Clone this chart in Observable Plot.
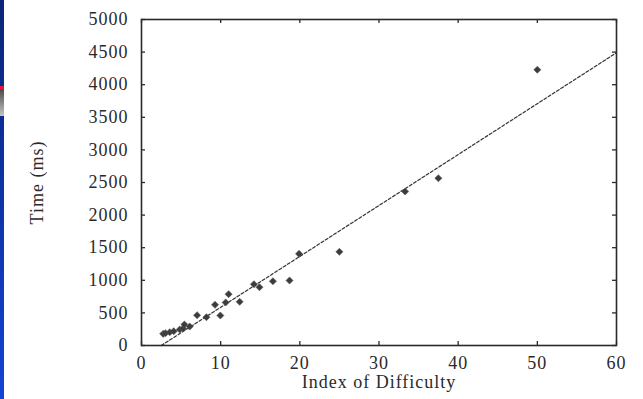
<!DOCTYPE html>
<html>
<head>
<meta charset="utf-8">
<script src="https://cdn.jsdelivr.net/npm/d3@7"></script>
<script src="https://cdn.jsdelivr.net/npm/@observablehq/plot@0.6"></script>
<style>
  html, body { margin: 0; padding: 0; background: #fff; }
  #wrap { position: relative; width: 643px; height: 399px; overflow: hidden; }
  #strip { position: absolute; left: 0; top: 0; width: 4px; height: 399px;
    background: linear-gradient(#0a2578, #1244d6); }
  #red { position: absolute; left: 0; top: 86px; width: 4px; height: 3px; background: #e0173c; }
  #gray { position: absolute; left: 0; top: 89px; width: 4px; height: 27px;
    background: linear-gradient(#4a4a4a, #c4c4c4); }
</style>
</head>
<body>
<div id="wrap"><div id="strip"></div><div id="red"></div><div id="gray"></div></div>
<script>
// Index of Difficulty vs Time (ms)
const indexOfDifficulty = [2.74, 3.03, 3.57, 4.07, 4.83, 5.26, 5.42, 6.09, 7.02, 8.2, 9.29, 9.96, 10.63, 11.0, 12.4, 14.2, 14.9, 16.6, 18.7, 19.9, 25.0, 33.3, 37.5, 50.0];
const timeMs = [179, 189, 204, 219, 245, 261, 322, 291, 465, 434, 624, 460, 660, 787, 670, 940, 894, 986, 997, 1406, 1437, 2362, 2566, 4229];
// regression line endpoints
const fitX = [2.5, 60];
const fitY = [0, 4490];
const xTicks = [0, 10, 20, 30, 40, 50, 60];
const yTicks = [0, 500, 1000, 1500, 2000, 2500, 3000, 3500, 4000, 4500, 5000];

const points = indexOfDifficulty.map((x, i) => ({x, y: timeMs[i]}));
const fit = fitX.map((x, i) => ({x, y: fitY[i]}));

const W = 643, H = 399, mL = 141, mR = 27, mT = 19, mB = 54;
const pw = W - mL - mR, ph = H - mT - mB, tk = 4;
const ink = "#2a2a2a";

const chart = Plot.plot({
  width: W, height: H,
  marginLeft: mL, marginRight: mR, marginTop: mT, marginBottom: mB,
  style: {fontFamily: "Liberation Serif, serif", fontSize: "18px", color: ink, background: "transparent"},
  x: {domain: [0, 60]},
  y: {domain: [0, 5000]},
  marks: [
    Plot.line(fit, {x: "x", y: "y", stroke: "#333", strokeWidth: 1.2, strokeDasharray: "3,2"}),
    Plot.dot(points, {x: "x", y: "y", symbol: "diamond2", r: 3.2, fill: "#3c3c3c", stroke: "#555", strokeWidth: 0.6}),
    Plot.tickY(yTicks, {y: d => d, insetRight: pw - tk, stroke: ink, strokeWidth: 1.3}),
    Plot.tickY(yTicks, {y: d => d, insetLeft: pw - tk, stroke: ink, strokeWidth: 1.3}),
    Plot.tickX(xTicks, {x: d => d, insetTop: ph - tk, stroke: ink, strokeWidth: 1.3}),
    Plot.tickX(xTicks, {x: d => d, insetBottom: ph - tk, stroke: ink, strokeWidth: 1.3}),
    Plot.frame({stroke: ink, strokeWidth: 1.6}),
    Plot.axisY(yTicks, {tickSize: 0, tickPadding: 13, tickFormat: d => String(d), fill: ink, label: null}),
    Plot.axisX(xTicks, {tickSize: 0, tickPadding: 11, tickFormat: d => String(d), fill: ink, label: null}),
    Plot.text(["Index of Difficulty"], {frameAnchor: "bottom", lineAnchor: "middle", textAnchor: "middle", dy: 37, fill: ink}),
    Plot.text(["Time (ms)"], {frameAnchor: "left", lineAnchor: "middle", textAnchor: "middle", dx: -104, rotate: -90, fill: ink})
  ]
});
d3.select(chart).selectAll("text")
  .style("font-family", "'Liberation Serif', serif")
  .style("font-size", "18px")
  .style("letter-spacing", "1px");
chart.style.position = "absolute";
chart.style.left = "0px";
chart.style.top = "0px";
document.getElementById("wrap").appendChild(chart);
</script>
</body>
</html>
